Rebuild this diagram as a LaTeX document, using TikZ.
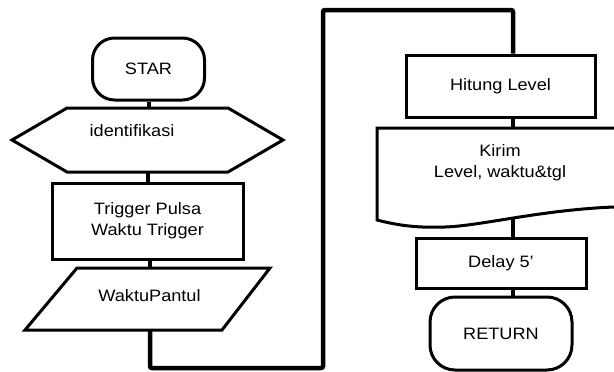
\documentclass[tikz,border=0pt]{standalone}
\usepackage{fontspec}
\setmainfont{Liberation Sans}[FakeStretch=1.1, Ligatures=NoCommon]
\usetikzlibrary{calc}
\begin{document}
\begin{tikzpicture}[x=1pt,y=-1pt,
  font=\fontsize{16.5}{21}\selectfont,
  outline/.style={draw, line width=3pt, line join=miter},
  box/.style={outline, rectangle, align=center, inner sep=0pt},
  term/.style={box, rounded corners=22pt},
  lab/.style={align=center, inner sep=0pt},
  conn/.style={line width=4pt},
  loopline/.style={line width=4.5pt, rounded corners=2pt}]
\useasboundingbox (0,0) rectangle (614,372);

% left column
\node[term, minimum width=112pt, minimum height=62pt] (star) at (148.5,69) {STAR};

\node[lab, minimum width=271pt, minimum height=64pt] (hex) at (148,140) {};
\draw[outline] (67,108) -- (228,108) -- (283,140) -- (228,172) -- (67,172) -- (12,140) -- cycle;
\node[lab] (hext) at (132,131) {identifikasi};

\node[box, minimum width=191pt, minimum height=76pt] (trig) at (147.5,221) {Trigger Pulsa\\Waktu Trigger};

\coordinate (pt) at (150,268);
\coordinate (pb) at (150,330);
\draw[outline] (77,268) -- (270,268) -- (222,330) -- (25,330) -- cycle;
\node[lab] (para) at (149.5,296) {WaktuPantul};

% right column
\node[box, minimum width=189pt, minimum height=62pt] (hit) at (500.5,86) {Hitung Level};

\begin{scope}
\clip (0,0) rectangle (614,372);
\draw[outline] (377,220) -- (377,128) -- (640,128) -- (640,206) -- (614,207)
  .. controls (540,210) and (480,226) .. (445,227)
  .. controls (420,228) and (400,226) .. (377,220) -- cycle;
\end{scope}
\node[lab] (kir) at (500,163) {Kirim\\Level, waktu\&tgl};
\coordinate (kt) at (513,128);
\coordinate (kb) at (513,217);

\node[box, minimum width=170pt, minimum height=50pt] (del) at (501,263) {Delay 5’};
\node[box, rounded corners=25pt, minimum width=142pt, minimum height=73pt] (ret) at (501,333.5) {RETURN};

% connectors
\draw[conn] (star.south) -- (star.south |- hex.north);
\draw[conn] (hex.south) -- (hex.south |- trig.north);
\draw[conn] (pt |- trig.south) -- (pt);
\coordinate (l1) at (150,368);
\coordinate (l2) at (323,368);
\coordinate (l3) at (323,10);
\coordinate (l4) at (513,10);
\draw[loopline] (pb) -- (l1) -- (l2) -- (l3) -- (l4) -- (l4 |- hit.north);
\draw[conn] (kt |- hit.south) -- (kt);
\draw[conn] (kb) -- (kb |- del.north);
\draw[conn] (kb |- del.south) -- (kb |- ret.north);
\end{tikzpicture}
\end{document}
